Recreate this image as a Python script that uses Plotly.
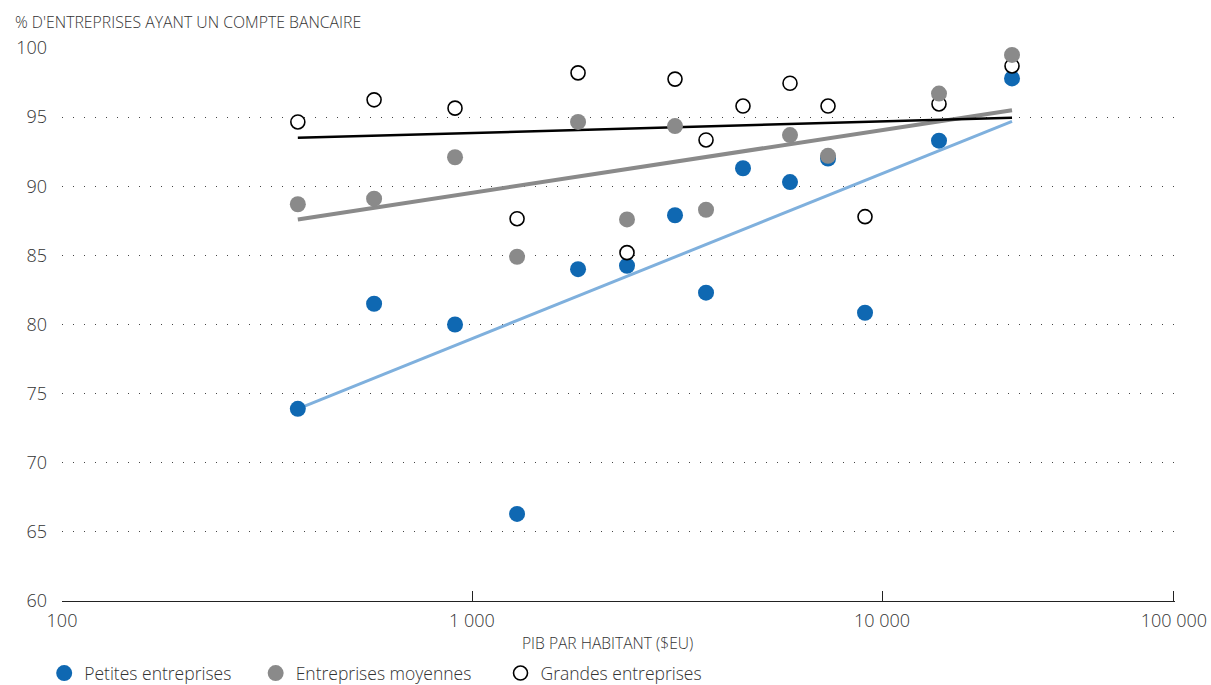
import plotly.graph_objects as go

# GDP per capita (US$) for each country in the survey
gdp_per_capita = [376, 577, 909, 1288, 1814, 2388, 3127, 3722, 4581, 5965, 7385, 9090, 13772, 20754]

# Share of firms holding a bank account (%), by firm size
petites = [73.9, 81.5, 80.0, 66.3, 84.0, 84.25, 87.9, 82.3, 91.3, 90.3, 92.0, 80.85, 93.3, 97.8]
moyennes = [88.7, 89.1, 92.1, 84.9, 94.65, 87.6, 94.35, 88.3, None, 93.7, 92.2, None, 96.7, 99.5]
grandes = [94.65, 96.25, 95.65, 87.65, 98.2, 85.2, 97.75, 93.35, 95.8, 97.45, 95.8, 87.8, 95.95, 98.7]

# Fitted trend lines: value at lowest and highest GDP per capita
trend_x = [376, 20754]
trend_petites = [73.9, 94.7]
trend_moyennes = [87.6, 95.5]
trend_grandes = [93.5, 94.95]

# Axis ticks
x_tick_vals = [100, 1000, 10000, 51500]
x_tick_text = ["100", "1 000", "10 000", "100 000"]
y_tick_vals = [60, 65, 70, 75, 80, 85, 90, 95, 100]

BLUE = "#0f68b2"
LIGHT_BLUE = "#7fb0dd"
GREY = "#8a8a8a"
TEXT = "#333333"
FONT = "Open Sans"

fig = go.Figure()

# Trend lines
fig.add_trace(go.Scatter(x=trend_x, y=trend_petites, mode="lines",
                         line=dict(color=LIGHT_BLUE, width=3), showlegend=False, hoverinfo="skip"))
fig.add_trace(go.Scatter(x=trend_x, y=trend_moyennes, mode="lines",
                         line=dict(color=GREY, width=4), showlegend=False, hoverinfo="skip"))
fig.add_trace(go.Scatter(x=trend_x, y=trend_grandes, mode="lines",
                         line=dict(color="#000000", width=2.5), showlegend=False, hoverinfo="skip"))

# Scatter points (each series gets its own legend box so the entries can be spaced freely)
fig.add_trace(go.Scatter(x=gdp_per_capita, y=petites, mode="markers", name="Petites entreprises",
                         legend="legend",
                         marker=dict(color=BLUE, size=16, line=dict(width=0)), cliponaxis=False))
fig.add_trace(go.Scatter(x=gdp_per_capita, y=grandes, mode="markers", name="Grandes entreprises",
                         legend="legend3",
                         marker=dict(color="white", size=14, line=dict(color="#000000", width=1.6)),
                         cliponaxis=False))
fig.add_trace(go.Scatter(x=gdp_per_capita, y=moyennes, mode="markers", name="Entreprises moyennes",
                         legend="legend2",
                         marker=dict(color=GREY, size=16, line=dict(width=0)), cliponaxis=False))

legend_common = dict(orientation="h", xanchor="left", y=-0.098, yanchor="top",
                     font=dict(size=17.5, color=TEXT, weight=300),
                     itemsizing="trace", bgcolor="rgba(0,0,0,0)")

fig.update_layout(
    width=1211, height=685,
    margin=dict(l=62, r=36, t=48, b=84, autoexpand=False),
    paper_bgcolor="white", plot_bgcolor="white",
    font=dict(family=FONT, color=TEXT, weight=300),
    xaxis=dict(
        type="log", range=[2, 4.7146],
        tickvals=x_tick_vals, ticktext=x_tick_text,
        ticks="inside", ticklen=10, tickcolor="#222222", tickwidth=1.2,
        showline=True, linecolor="#222222", linewidth=1.4,
        showgrid=False, zeroline=False,
        tickfont=dict(size=18, color=TEXT, weight=300), ticklabelstandoff=3,
    ),
    yaxis=dict(
        range=[60, 100], tickvals=y_tick_vals,
        showline=False, ticks="", zeroline=False,
        showgrid=True, gridcolor="#444444", gridwidth=1.4, griddash="1.4px,9.6px",
        tickfont=dict(size=18, color=TEXT, weight=300), ticklabelstandoff=14,
    ),
    legend=dict(x=-0.016, **legend_common),
    legend2=dict(x=0.174, **legend_common),
    legend3=dict(x=0.394, **legend_common),
    annotations=[
        dict(text="% D'ENTREPRISES AYANT UN COMPTE BANCAIRE", xref="paper", yref="paper",
             x=-0.044, y=1.0, xanchor="left", yanchor="bottom", yshift=13, showarrow=False,
             font=dict(size=15.8, color=TEXT, weight=300)),
        dict(text="PIB PAR HABITANT ($EU)", xref="paper", yref="paper",
             x=0.49, y=0, xanchor="center", yanchor="middle", yshift=-42, showarrow=False,
             font=dict(size=15.6, color=TEXT, weight=300)),
    ],
)

fig.write_html("out.html")
